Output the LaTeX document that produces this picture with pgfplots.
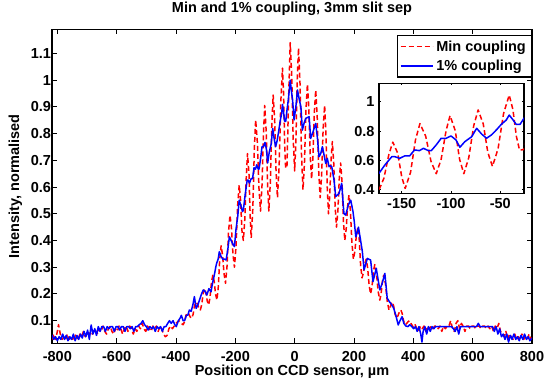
\documentclass[border=0pt]{standalone}
\usepackage{fontspec}
\setmainfont{Liberation Sans}
\usepackage{pgfplots}
\usepackage{pgfplotstable}
\pgfplotsset{compat=1.18}

\pgfplotstableread{
x y
-818 0.03
-812 0.05
-806 0.03
-800 0.06
-796 0.085
-790 0.05
-784 0.03
-778 0.04
-772 0.03
-766 0.05
-760 0.03
-754 0.04
-748 0.03
-742 0.05
-736 0.04
-730 0.03
-724 0.05
-718 0.04
-712 0.06
-706 0.04
-700 0.05
-694 0.04
-688 0.06
-682 0.05
-676 0.07
-670 0.06
-664 0.05
-658 0.07
-652 0.06
-646 0.08
-640 0.06
-634 0.05
-628 0.07
-622 0.08
-616 0.06
-610 0.05
-604 0.07
-598 0.06
-592 0.08
-586 0.07
-580 0.05
-574 0.07
-568 0.08
-562 0.06
-556 0.08
-550 0.07
-544 0.05
-538 0.07
-532 0.06
-526 0.08
-520 0.07
-514 0.09
-508 0.07
-502 0.06
-496 0.08
-490 0.07
-484 0.06
-478 0.08
-472 0.07
-466 0.08
-460 0.06
-454 0.08
-448 0.07
-442 0.05
-436 0.04
-430 0.045
-424 0.07
-418 0.08
-412 0.07
-406 0.08
-400 0.09
-391 0.10
-386 0.096
-381 0.089
-376 0.085
-371.3 0.096
-366.7 0.119
-362 0.13
-357 0.125
-352 0.114
-347 0.109
-342.3 0.124
-337.7 0.155
-333 0.17
-328 0.163
-323 0.148
-318 0.14
-313.3 0.16
-308.7 0.20
-304 0.22
-299.3 0.205
-294.7 0.174
-290 0.159
-285.3 0.187
-280.7 0.242
-276 0.27
-271.3 0.247
-266.7 0.20
-262 0.177
-257.3 0.228
-252.7 0.329
-248 0.38
-243 0.345
-238 0.275
-233 0.24
-228 0.304
-223 0.431
-218 0.495
-213 0.446
-208 0.349
-203 0.30
-197.7 0.377
-192.3 0.53
-187 0.607
-182.3 0.55
-177.7 0.437
-173 0.40
-168 0.48
-163 0.641
-159 0.725
-154 0.649
-150 0.49
-146.5 0.41
-141 0.52
-136 0.741
-131.5 0.851
-125.7 0.766
-120.3 0.595
-115 0.51
-110 0.608
-105 0.803
-101 0.905
-95.7 0.803
-91.3 0.608
-87 0.51
-82 0.619
-77 0.836
-72.5 0.944
-67.3 0.848
-62.7 0.656
-58 0.56
-52.3 0.68
-46.7 0.92
-41 1.045
-37.3 0.948
-33.7 0.763
-30.5 0.67
-26 0.675
-20 0.95
-15 1.14
-10 1.02
-5 0.78
0 0.66
4.3 0.775
8.7 1.005
13 1.12
18 0.988
23 0.723
28 0.59
33 0.689
38 0.886
43 0.985
47.7 0.896
52.3 0.719
57 0.63
61.7 0.713
66.3 0.88
71 0.963
76 0.862
81 0.661
86 0.56
91 0.646
96 0.819
101 0.905
105.3 0.804
109.7 0.601
114 0.50
118.3 0.568
122.7 0.703
127 0.77
131.7 0.69
136.3 0.53
141 0.45
145.7 0.51
150.3 0.63
155 0.69
159.7 0.618
164.3 0.473
169 0.40
173.7 0.443
178.3 0.528
183 0.57
188 0.51
193 0.39
198 0.33
203 0.36
208 0.42
213 0.45
217.7 0.403
222.3 0.308
227 0.26
231.7 0.278
236.3 0.313
241 0.33
246 0.298
251 0.233
256 0.20
260.7 0.228
265.3 0.283
270 0.31
275.7 0.277
281.3 0.21
287 0.177
291.3 0.20
295.7 0.247
300 0.27
306 0.238
312 0.173
318 0.14
321.7 0.148
325.3 0.163
329 0.17
333.7 0.155
338.3 0.125
343 0.11
348 0.118
353 0.133
358 0.14
362.7 0.126
367.3 0.099
372 0.085
377 0.089
382 0.096
387 0.10
400 0.075
406 0.085
412 0.07
418 0.06
424 0.08
430 0.07
436 0.08
442 0.06
448 0.08
454 0.07
460 0.08
466 0.07
472 0.08
478 0.08
484 0.07
490 0.08
496 0.06
502 0.08
508 0.07
514 0.08
520 0.08
526 0.10
532 0.07
538 0.06
544 0.09
550 0.10
556 0.07
562 0.09
568 0.08
574 0.06
580 0.08
586 0.08
592 0.07
598 0.08
604 0.08
610 0.07
616 0.08
622 0.08
628 0.07
634 0.08
640 0.08
646 0.07
652 0.08
658 0.07
664 0.08
670 0.06
676 0.08
682 0.07
688 0.09
694 0.06
700 0.05
706 0.04
712 0.06
718 0.03
724 0.05
730 0.04
736 0.03
742 0.05
748 0.03
754 0.04
760 0.03
766 0.05
772 0.03
778 0.04
784 0.03
790 0.05
796 0.03
800 0.04
}\redtab

\pgfplotstableread{
x y
-818 0.046
-812 0.03
-806 0.04
-800 0.025
-794 0.04
-788 0.03
-782 0.05
-776 0.03
-770 0.045
-764 0.025
-758 0.04
-752 0.03
-746 0.05
-740 0.025
-734 0.045
-728 0.03
-722 0.05
-716 0.035
-710 0.06
-704 0.04
-698 0.065
-692 0.03
-686 0.084
-680 0.05
-674 0.07
-668 0.045
-662 0.078
-656 0.06
-650 0.078
-644 0.078
-638 0.06
-632 0.078
-626 0.07
-620 0.078
-614 0.078
-608 0.06
-602 0.078
-596 0.078
-590 0.065
-584 0.078
-578 0.078
-572 0.06
-566 0.078
-560 0.078
-554 0.07
-548 0.078
-542 0.06
-536 0.078
-530 0.078
-524 0.085
-518 0.09
-512 0.10
-506 0.085
-500 0.078
-494 0.065
-488 0.078
-482 0.07
-476 0.078
-470 0.06
-464 0.078
-458 0.07
-452 0.078
-446 0.06
-440 0.078
-434 0.078
-428 0.09
-422 0.10
-416 0.09
-410 0.10
-404 0.085
-399 0.078
-392 0.10
-386 0.11
-382 0.12
-376 0.10
-371 0.10
-365 0.12
-360 0.121
-355 0.14
-349 0.135
-343 0.16
-338 0.19
-332 0.146
-326 0.16
-320 0.18
-314 0.20
-308 0.215
-302 0.21
-296 0.196
-289 0.22
-282 0.208
-277 0.24
-271 0.27
-266 0.30
-263 0.315
-258 0.33
-254 0.358
-248 0.34
-242 0.33
-236 0.33
-231 0.327
-225 0.37
-220 0.414
-214 0.40
-208 0.385
-203 0.377
-198 0.44
-192 0.489
-187 0.551
-181 0.53
-176 0.508
-173 0.513
-167 0.57
-160 0.626
-157 0.626
-152 0.615
-147 0.631
-142 0.631
-137 0.672
-132 0.667
-128 0.683
-123 0.667
-120 0.667
-115 0.706
-110 0.751
-105 0.751
-100 0.767
-95 0.74
-91 0.69
-86 0.728
-79 0.762
-74 0.819
-69 0.78
-64 0.751
-59 0.774
-54 0.808
-49 0.846
-44 0.875
-41 0.909
-37 0.875
-34 0.846
-30 0.846
-26 0.887
-21 0.93
-15 1.0
-11 0.96
-7 0.925
-2 0.851
4 0.90
9.5 0.963
15 0.93
21 0.90
26 0.813
32 0.84
37.5 0.857
43 0.86
48.7 0.863
54 0.782
60 0.80
65.5 0.819
71 0.838
77 0.78
82 0.713
88 0.726
93.5 0.751
99 0.72
104.7 0.688
110 0.707
116 0.676
120 0.68
125 0.676
132.7 0.626
138.3 0.564
144 0.57
149.5 0.576
158.5 0.614
166 0.501
172 0.495
181 0.533
189 0.551
196.6 0.508
201 0.47
206 0.414
211 0.43
215 0.45
223 0.395
228 0.36
234 0.29
245 0.333
256 0.327
264 0.246
275 0.296
287 0.215
295 0.24
304 0.277
312 0.184
320 0.17
327 0.16
334 0.146
341 0.12
349 0.084
355 0.10
362 0.115
368 0.09
375 0.08
382 0.078
388 0.085
395 0.078
401 0.07
407 0.078
413 0.06
419 0.078
425 0.05
429 0.02
433 0.06
439 0.078
445 0.05
451 0.078
457 0.06
463 0.078
469 0.07
475 0.078
481 0.078
487 0.078
493 0.078
499 0.078
505 0.078
511 0.078
517 0.078
523 0.078
529 0.078
535 0.07
541 0.06
547 0.078
553 0.05
559 0.078
565 0.078
571 0.078
577 0.078
583 0.078
589 0.078
595 0.078
601 0.078
607 0.078
613 0.078
619 0.09
625 0.078
631 0.078
637 0.078
643 0.078
649 0.078
655 0.078
661 0.078
667 0.078
673 0.06
679 0.078
685 0.05
691 0.07
697 0.04
703 0.05
709 0.03
715 0.05
721 0.02
727 0.045
733 0.03
739 0.05
745 0.03
751 0.04
757 0.025
763 0.045
769 0.03
775 0.05
781 0.03
787 0.04
793 0.025
800 0.035
}\bluetab

\begin{document}
\begin{tikzpicture}[font=\fontsize{14.5}{17}\selectfont\bfseries]
\path[use as bounding box] (0,0) rectangle (544pt,382pt);
\begin{axis}[
  at={(52pt,38.7pt)}, anchor=south west, scale only axis,
  width=480pt, height=314pt,
  xmin=-818, xmax=800, ymin=0.0155, ymax=1.19,
  xtick={-800,-600,-400,-200,0,200,400,600,800},
  ytick={0.1,0.2,0.3,0.4,0.5,0.6,0.7,0.8,0.9,1,1.1},
  tick align=inside, tick pos=both, major tick length=5pt,
  every tick/.style={black, line width=1pt},
  axis line style={line width=1.5pt},
  /pgf/number format/assume math mode=true,
  ticklabel style={font=\fontsize{14.5}{17}\selectfont\bfseries},
  yticklabel style={xshift=2.5pt},
  xticklabel style={yshift=-5pt},
  scaled ticks=false,
  title={Min and 1\% coupling, 3mm slit sep},
  title style={at={(axis description cs:0.5,1.035)}, anchor=base, inner sep=0pt},
  xlabel={Position on CCD sensor, µm},
  xlabel style={at={(axis description cs:0.5,-0.104)}, anchor=base, inner sep=0pt},
  ylabel={Intensity, normalised},
  ylabel style={at={(axis description cs:-0.0685,0.5)}, anchor=base, inner sep=0pt},
  legend cell align=left,
  legend image code/.code={\draw[#1] (0pt,0pt) -- (32pt,0pt);},
  legend style={at={(axis description cs:1,1)}, anchor=north east, yshift=-5.7pt,
    draw=black, line width=1.5pt, fill=white, inner xsep=2.5pt, inner ysep=1.5pt,
    row sep=0pt, nodes={inner xsep=3pt, inner ysep=3.5pt}},
]
\addplot[red, line width=1.5pt, dash pattern=on 5pt off 3pt, line join=round] table {\redtab};
\addlegendentry{Min coupling}
\addplot[blue, line width=1.5pt, line join=round] table {\bluetab};
\addlegendentry{1\% coupling}
\end{axis}
\begin{axis}[
  at={(379pt,188.7pt)}, anchor=south west, scale only axis,
  width=145pt, height=110pt,
  xmin=-173, xmax=-26, ymin=0.377, ymax=1.125,
  xtick={-150,-100,-50}, ytick={0.4,0.6,0.8,1},
  axis background/.style={fill=white},
  tick align=inside, tick pos=both, major tick length=2pt,
  every tick/.style={black, line width=1pt},
  axis line style={line width=1.5pt},
  /pgf/number format/assume math mode=true,
  ticklabel style={font=\fontsize{14.5}{17}\selectfont\bfseries},
  yticklabel style={xshift=-1pt},
  xticklabel style={yshift=-2pt},
  scaled ticks=false,
]
\addplot[red, line width=1.5pt, dash pattern=on 5pt off 3pt, line join=round] table {\redtab};
\addplot[blue, line width=1.5pt, line join=round] table {\bluetab};
\end{axis}
\end{tikzpicture}
\end{document}
